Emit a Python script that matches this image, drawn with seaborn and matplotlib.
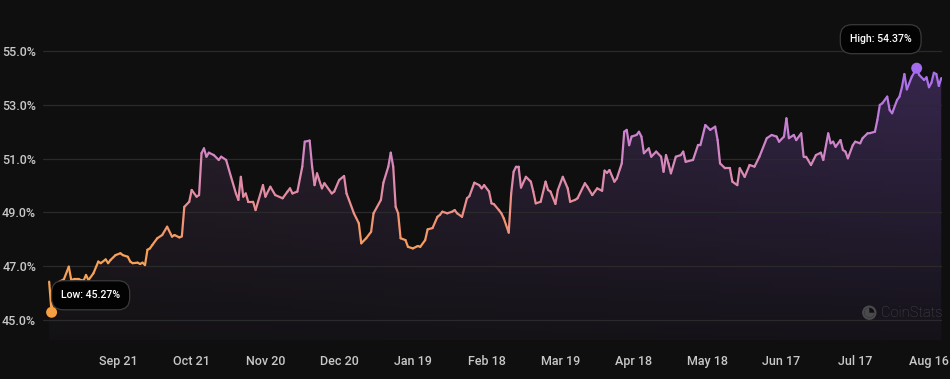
import numpy as np
import pandas as pd
import matplotlib
matplotlib.use("Agg")
import matplotlib.pyplot as plt
import matplotlib.dates as mdates
from matplotlib.collections import LineCollection
from matplotlib.colors import LinearSegmentedColormap, Normalize
from matplotlib.patches import Circle, Wedge
from matplotlib.ticker import FuncFormatter
import seaborn as sns

# ---------------- data ----------------
start_date = "2023-08-24"
days = [0, 1, 2, 4, 6, 8, 9, 10, 12, 14, 15, 16, 18, 20, 21, 23, 24, 25, 27, 29,
        30, 32, 33, 34, 36, 37, 38, 39, 40, 41, 42, 44, 46, 48, 50, 51, 53, 54, 55, 57,
        58, 60, 61, 62, 63, 64, 65, 67, 69, 70, 72, 74, 76, 77, 78, 79, 80, 81, 83, 84,
        85, 87, 88, 90, 92, 95, 97, 98, 99, 101, 103, 104, 106, 107, 108, 109, 111, 112, 115, 116,
        118, 120, 121, 122, 124, 126, 127, 129, 131, 132, 135, 136, 138, 139, 140, 141, 142, 143, 145, 146,
        148, 150, 151, 153, 154, 156, 158, 159, 160, 162, 164, 165, 166, 168, 170, 171, 173, 175, 176, 177,
        179, 180, 181, 183, 184, 185, 187, 188, 189, 190, 191, 192, 194, 196, 197, 198, 200, 202, 203, 204,
        206, 207, 209, 211, 212, 214, 215, 218, 219, 221, 223, 225, 226, 227, 228, 230, 231, 233, 234, 235,
        236, 237, 239, 240, 241, 242, 244, 245, 247, 249, 250, 251, 252, 253, 255, 257, 258, 259, 262, 264,
        265, 267, 269, 271, 272, 273, 275, 277, 278, 280, 281, 283, 285, 287, 289, 292, 294, 296, 297, 299,
        300, 301, 303, 304, 306, 307, 308, 310, 312, 314, 315, 317, 318, 319, 320, 322, 323, 324, 325, 327,
        328, 330, 331, 333, 334, 336, 337, 338, 339, 341, 342, 343, 345, 346, 347, 348, 349, 351, 353, 354,
        356, 357, 358, 359, 360, 361, 362, 363]
dominance = [46.41, 45.27, 46.2, 46.4, 46.5, 46.97, 46.47, 46.5, 46.5, 46.45, 46.66, 46.47, 46.72, 47.16, 47.1, 47.24, 47.1, 47.22, 47.4, 47.47,
             47.4, 47.34, 47.16, 47.1, 47.12, 47.07, 47.12, 47.03, 47.6, 47.65, 47.78, 48.03, 48.15, 48.46, 48.09, 48.15, 48.06, 48.1, 49.2, 49.39,
             49.83, 49.58, 49.64, 51.2, 51.38, 51.07, 51.22, 51.13, 50.95, 51.07, 50.95, 50.32, 49.7, 49.46, 50.32, 49.58, 49.7, 49.39, 49.39, 49.08,
             49.39, 50.01, 49.58, 49.95, 49.64, 49.52, 49.77, 49.89, 49.7, 49.77, 50.7, 51.63, 51.67, 50.7, 50.01, 50.45, 49.89, 50.08, 49.7, 49.77,
             50.2, 50.35, 49.7, 49.46, 48.96, 48.59, 47.84, 48.03, 48.27, 48.96, 49.46, 50.1, 50.7, 51.22, 50.7, 49.2, 48.96, 48.03, 47.96, 47.71,
             47.65, 47.74, 47.71, 47.96, 48.36, 48.41, 48.83, 48.9, 49.02, 48.96, 49.02, 49.08, 48.96, 48.83, 49.52, 49.6, 50.1, 50.01, 49.89, 50.01,
             49.77, 49.33, 49.3, 49.08, 48.96, 48.77, 48.24, 49.7, 50.51, 50.7, 50.7, 49.92, 50.32, 50.14, 49.77, 49.33, 49.39, 50.14, 49.83, 49.77,
             49.31, 49.83, 50.32, 49.89, 49.39, 49.46, 49.52, 50.08, 49.95, 49.64, 49.89, 49.8, 50.55, 50.47, 50.57, 50.14, 50.26, 50.82, 52.0, 52.07,
             51.5, 51.82, 51.88, 52.0, 51.82, 51.2, 51.38, 51.07, 51.26, 51.07, 50.51, 51.13, 50.82, 50.45, 51.07, 51.13, 51.26, 50.88, 50.95, 51.5,
             51.5, 52.25, 52.07, 52.19, 51.69, 50.82, 50.64, 50.64, 50.14, 50.01, 50.64, 50.32, 50.76, 50.7, 51.07, 51.76, 51.88, 51.82, 51.63, 51.82,
             52.5, 51.76, 51.88, 51.69, 51.94, 51.07, 51.07, 50.76, 51.13, 51.22, 50.95, 51.94, 51.57, 51.63, 51.44, 51.69, 51.32, 51.26, 51.01, 51.5,
             51.63, 51.57, 51.76, 51.94, 51.95, 52.0, 52.44, 53.0, 53.06, 53.31, 52.81, 52.69, 53.18, 53.31, 53.66, 54.15, 53.58, 54.05, 54.37, 54.12,
             53.93, 54.03, 53.66, 53.83, 54.2, 54.15, 53.71, 54.0]
y_ticks = [45, 47, 49, 51, 53, 55]
tick_dates = ["2023-09-21", "2023-10-21", "2023-11-20", "2023-12-20", "2024-01-19", "2024-02-18",
              "2024-03-19", "2024-04-18", "2024-05-18", "2024-06-17", "2024-07-17", "2024-08-16"]
tick_labels = ["Sep 21", "Oct 21", "Nov 20", "Dec 20", "Jan 19", "Feb 18",
               "Mar 19", "Apr 18", "May 18", "Jun 17", "Jul 17", "Aug 16"]
low_label = "Low: 45.27%"
high_label = "High: 54.37%"
watermark = "CoinStats"

df = pd.DataFrame({
    "date": pd.Timestamp(start_date) + pd.to_timedelta(days, unit="D"),
    "dominance": dominance,
})

# ---------------- style ----------------
BG = "#0f0f10"
sns.set_theme(style="dark")
plt.rcParams["font.family"] = ["Roboto", "DejaVu Sans"]

fig = plt.figure(figsize=(9.5, 3.79), dpi=100, facecolor=BG)
ax = fig.add_axes([43 / 950, 39 / 379, 899 / 950, 310 / 379])
ax.set_facecolor(BG)

y_lo, y_hi = 44.236, 55.794
x0 = mdates.date2num(pd.Timestamp(start_date) - pd.Timedelta(days=2.5))
x1 = mdates.date2num(pd.Timestamp(start_date) + pd.Timedelta(days=363.3))

# line drawn by seaborn, then re-coloured with a vertical gradient
sns.lineplot(data=df, x="date", y="dominance", ax=ax, color="white", lw=1.5)
base_line = ax.lines[0]
xn = mdates.date2num(df["date"])
yv = df["dominance"].to_numpy()
base_line.remove()

cmap = LinearSegmentedColormap.from_list(
    "dom", [(0.0, "#f7a24c"), (0.28, "#f6a05a"), (0.38, "#f29470"),
            (0.48, "#e58c9c"), (0.60, "#d98ab8"), (0.76, "#c880d4"), (1.0, "#a56cf0")])
norm = Normalize(45.0, 54.4)

pts = np.column_stack([xn, yv])
segs = np.stack([pts[:-1], pts[1:]], axis=1)
mid = (yv[:-1] + yv[1:]) / 2
lc = LineCollection(segs, colors=cmap(norm(mid)), linewidths=1.6,
                    capstyle="round", joinstyle="round", zorder=4)
ax.add_collection(lc)

# gradient fill under the line
ny, nx = 300, 400
gy = np.linspace(y_lo, y_hi, ny)[:, None]
gx = np.linspace(0, 1, nx)[None, :]
left_c = np.array([50, 38, 50]) / 255
right_c = np.array([66, 46, 94]) / 255
rgba = np.zeros((ny, nx, 4))
for k in range(3):
    rgba[..., k] = left_c[k] + (right_c[k] - left_c[k]) * gx
alpha = 0.12 + 0.68 * np.clip((gy - y_lo) / (54.5 - y_lo), 0, 1)
rgba[..., 3] = np.broadcast_to(alpha, (ny, nx))
poly = ax.fill_between(xn, yv, y_lo, facecolor="none", lw=0)
im = ax.imshow(rgba, extent=[xn[0], xn[-1], y_lo, y_hi], origin="lower",
               aspect="auto", zorder=1, interpolation="bilinear")
im.set_clip_path(poly.get_paths()[0], transform=ax.transData)

# axes / grid
ax.set_xlim(x0, x1)
ax.set_ylim(y_lo, y_hi)
ax.set_yticks(y_ticks)
ax.yaxis.set_major_formatter(FuncFormatter(lambda v, p: f"{v:.1f}%"))
ax.set_xticks(mdates.date2num(pd.to_datetime(tick_dates)))
ax.set_xticklabels(tick_labels)
ax.set_axisbelow(False)
ax.yaxis.grid(True, color="#2a2a2d", lw=0.9, zorder=2)
ax.xaxis.grid(False)
for s in ax.spines.values():
    s.set_visible(False)
ax.tick_params(axis="y", colors="#c8c8c8", labelsize=9, length=0, pad=5)
ax.tick_params(axis="x", colors="#c8c8c8", labelsize=9, length=0, pad=11)
for lab in ax.get_xticklabels() + ax.get_yticklabels():
    lab.set_fontweight("medium")
ax.xaxis.label.set_visible(False)
ax.yaxis.label.set_visible(False)

# extreme markers
i_low = int(np.argmin(yv))
i_high = int(np.argmax(yv))
ext = df.iloc[[i_low, i_high]].copy()
sns.scatterplot(data=ext, x="date", y="dominance", ax=ax, hue="dominance",
                palette=["#f6a043", "#a56cf0"], s=62, linewidth=0, legend=False, zorder=8)

box = dict(boxstyle="round,pad=0.9,rounding_size=1.1", facecolor="#030303",
           edgecolor="#3a3a3c", lw=0.9)
ax.annotate(low_label, xy=(xn[i_low], yv[i_low]), xytext=(39, 17),
            textcoords="offset pixels", ha="center", va="center", color="white",
            fontsize=7.6, fontweight="medium", bbox=box, zorder=5)
ax.annotate(high_label, xy=(xn[i_high], yv[i_high]), xytext=(-36, 29),
            textcoords="offset pixels", ha="center", va="center", color="white",
            fontsize=7.6, fontweight="medium", bbox=box, zorder=5)

# watermark
wm_c = "#4a4a4c"
fig.patches.append(Circle((8.693, 0.663), 0.072, transform=fig.dpi_scale_trans,
                          facecolor=wm_c, edgecolor="none"))
fig.patches.append(Circle((8.693, 0.663), 0.05, transform=fig.dpi_scale_trans,
                          facecolor=BG, edgecolor="none"))
fig.patches.append(Wedge((8.693, 0.663), 0.05, 90, 360, transform=fig.dpi_scale_trans,
                         facecolor=wm_c, edgecolor="none"))
fig.text(881 / 950, 1 - 313 / 379, watermark, color=wm_c, fontsize=10.5,
         ha="left", va="center", fontweight="light")

fig.savefig("out.png", dpi=100, facecolor=BG)
